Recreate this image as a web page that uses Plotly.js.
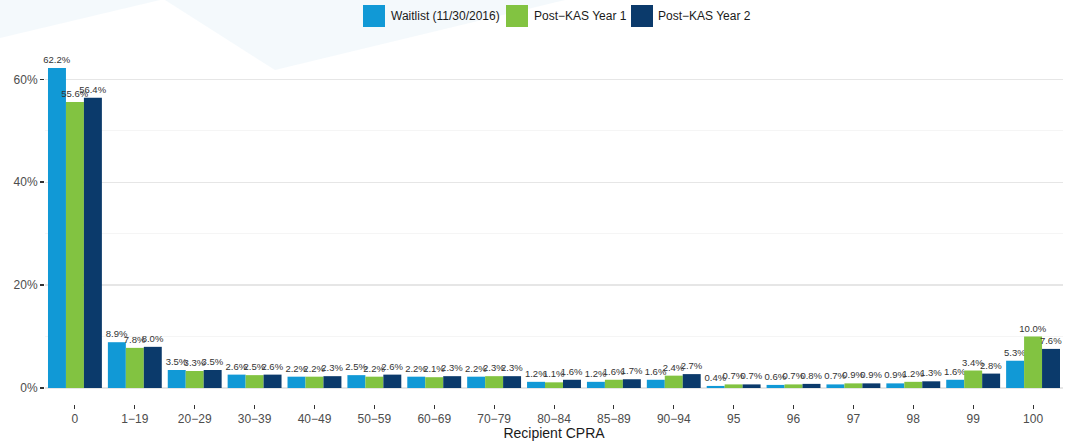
<!DOCTYPE html>
<html>
<head>
<meta charset="utf-8">
<script src="https://cdn.plot.ly/plotly-3.0.1.min.js"></script>
<style>html,body{margin:0;padding:0;background:#fff;}#chart{width:1067px;height:441px;}</style>
</head>
<body>
<div id="chart"></div>
<script>
const categories = ["0","1\u221219","20\u221229","30\u221239","40\u221249","50\u221259","60\u221269","70\u221279","80\u221284","85\u221289","90\u221294","95","96","97","98","99","100"];
const seriesNames = ["Waitlist (11/30/2016)", "Post\u2212KAS Year 1", "Post\u2212KAS Year 2"];
const waitlist = [62.2, 8.9, 3.5, 2.6, 2.2, 2.5, 2.2, 2.2, 1.2, 1.2, 1.6, 0.4, 0.6, 0.7, 0.9, 1.6, 5.3];
const year1    = [55.6, 7.8, 3.3, 2.5, 2.2, 2.2, 2.1, 2.3, 1.1, 1.6, 2.4, 0.7, 0.7, 0.9, 1.2, 3.4, 10.0];
const year2    = [56.4, 8.0, 3.5, 2.6, 2.3, 2.6, 2.3, 2.3, 1.6, 1.7, 2.7, 0.7, 0.8, 0.9, 1.3, 2.8, 7.6];
const yTicks = [0, 20, 40, 60];
const yTickLabels = ["0%", "20%", "40%", "60%"];

const colors = ["#1199d6", "#82c341", "#0b3a6b"];
const values = [waitlist, year1, year2];

const W = 1067, H = 441;
const mL = 45, mR = 4, mT = 52, mB = 37;
const pw = W - mL - mR, ph = H - mT - mB;
const px = X => (X - mL) / pw;
const py = Y => (H - mB - Y) / ph;

const traces = values.map((v, i) => ({
  type: "bar",
  x: categories,
  y: v,
  name: seriesNames[i],
  marker: {color: colors[i], line: {width: 0}},
  text: v.map(d => d.toFixed(1) + "%"),
  textposition: "outside",
  textfont: {family: "Liberation Sans, Arial, sans-serif", size: 9.5, color: "#333333"},
  constraintext: "none",
  cliponaxis: false,
  showlegend: false,
  hoverinfo: "x+y"
}));

const legend = [
  {sx: 363, tx: 389},
  {sx: 506, tx: 532},
  {sx: 631, tx: 656}
];
const shapes = [
  {type: "path", xref: "paper", yref: "paper", layer: "below",
   path: `M ${px(0)} ${py(0)} L ${px(160)} ${py(0)} L ${px(0)} ${py(38)} Z`,
   fillcolor: "rgba(214,232,244,0.28)", line: {width: 0}},
  {type: "path", xref: "paper", yref: "paper", layer: "below",
   path: `M ${px(165)} ${py(0)} L ${px(565)} ${py(0)} L ${px(275)} ${py(70)} Z`,
   fillcolor: "rgba(214,232,244,0.28)", line: {width: 0}}
];
const annotations = [];
legend.forEach((l, i) => {
  shapes.push({type: "rect", xref: "paper", yref: "paper",
    x0: px(l.sx), x1: px(l.sx + 22), y0: py(5), y1: py(27),
    fillcolor: colors[i], line: {width: 0}});
  annotations.push({xref: "paper", yref: "paper", x: px(l.tx), y: py(16),
    xanchor: "left", yanchor: "middle", showarrow: false, text: seriesNames[i],
    font: {family: "Liberation Sans, Arial, sans-serif", size: 12, color: "#1a1a1a"}});
});

const layout = {
  width: W, height: H,
  margin: {l: mL, r: mR, t: mT, b: mB},
  paper_bgcolor: "rgba(0,0,0,0)",
  plot_bgcolor: "rgba(0,0,0,0)",
  barmode: "group",
  bargap: 0.1,
  bargroupgap: 0,
  showlegend: false,
  font: {family: "Liberation Sans, Arial, sans-serif"},
  xaxis: {
    type: "category",
    showgrid: false,
    zeroline: false,
    showline: false,
    ticks: "outside",
    ticklen: 4,
    tickwidth: 1,
    tickcolor: "#333333",
    tickfont: {size: 12, color: "#4d4d4d"},
    title: {text: "Recipient CPRA", font: {size: 14, color: "#1a1a1a"}, standoff: 4},
    range: [-0.5, 16.5]
  },
  yaxis: {
    range: [-3.11, 65.31],
    tickvals: yTicks,
    ticktext: yTickLabels,
    ticks: "outside",
    ticklen: 4,
    tickwidth: 1.5,
    tickcolor: "#333333",
    tickfont: {size: 12, color: "#4d4d4d"},
    showgrid: true,
    gridcolor: "#e6e6e6",
    gridwidth: 1.4,
    zeroline: false,
    showline: false,
    minor: {tickvals: [10, 30, 50], showgrid: true, gridcolor: "#f2f2f2", gridwidth: 0.8, ticks: ""}
  },
  shapes: shapes,
  annotations: annotations
};

Plotly.newPlot("chart", traces, layout, {displayModeBar: false, staticPlot: true});
</script>
</body>
</html>
